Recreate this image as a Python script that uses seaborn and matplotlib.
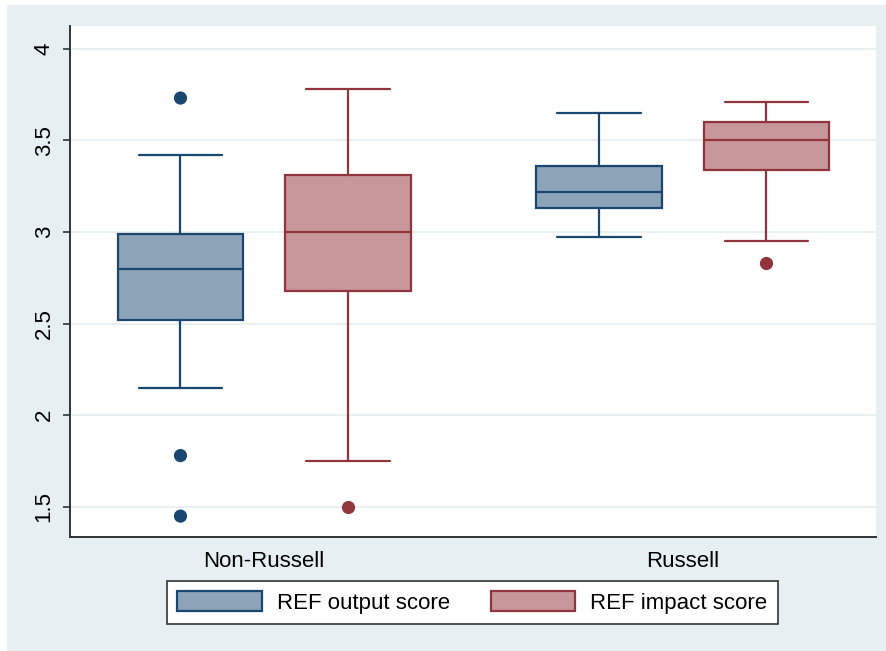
import matplotlib
matplotlib.use("Agg")
import matplotlib.pyplot as plt
from matplotlib.patches import Patch, Rectangle
import pandas as pd
import seaborn as sns

# Summary statistics per group and measure
groups = ["Non-Russell", "Russell"]
measures = ["REF output score", "REF impact score"]

whisker_low = {"REF output score": [2.15, 2.97], "REF impact score": [1.75, 2.95]}
q1 = {"REF output score": [2.52, 3.13], "REF impact score": [2.68, 3.34]}
median = {"REF output score": [2.80, 3.22], "REF impact score": [3.00, 3.50]}
q3 = {"REF output score": [2.99, 3.36], "REF impact score": [3.31, 3.60]}
whisker_high = {"REF output score": [3.42, 3.65], "REF impact score": [3.78, 3.71]}

# Outlying observations
outlier_group = ["Non-Russell", "Non-Russell", "Non-Russell", "Non-Russell", "Russell"]
outlier_measure = ["REF output score", "REF output score", "REF output score",
                   "REF impact score", "REF impact score"]
outlier_value = [3.73, 1.78, 1.45, 1.50, 2.83]

y_ticks = [1.5, 2, 2.5, 3, 3.5, 4]
y_tick_labels = ["1.5", "2", "2.5", "3", "3.5", "4"]

edge_colors = {"REF output score": "#1A476F", "REF impact score": "#90353B"}
fill_colors = {"REF output score": "#8DA3B8", "REF impact score": "#C7979B"}
bg_color = "#E6F0F2"

sns.set_style("white")
plt.rcParams["font.family"] = ["Liberation Sans", "DejaVu Sans"]
plt.rcParams["text.color"] = "black"

fig = plt.figure(figsize=(8.86, 6.51), dpi=100, facecolor="white")
fig.patches.append(Rectangle((7 / 886, 0), 1, (651 - 5) / 651, transform=fig.transFigure,
                             facecolor=bg_color, edgecolor="none", zorder=-10))
ax = fig.add_axes([70 / 886, (651 - 537) / 651, (876 - 70) / 886, (537 - 26) / 651])
ax.set_facecolor("white")

offsets = {"REF output score": -0.2, "REF impact score": 0.2}
for m in measures:
    stats = []
    positions = []
    for i, g in enumerate(groups):
        stats.append(dict(whislo=whisker_low[m][i], q1=q1[m][i], med=median[m][i],
                          q3=q3[m][i], whishi=whisker_high[m][i], fliers=[], label=g))
        positions.append(i + offsets[m])
    ec = edge_colors[m]
    ax.bxp(stats, positions=positions, widths=0.3, capwidths=0.2, patch_artist=True,
           showfliers=False, manage_ticks=False,
           boxprops=dict(facecolor=fill_colors[m], edgecolor=ec, linewidth=1.6),
           medianprops=dict(color=ec, linewidth=1.6),
           whiskerprops=dict(color=ec, linewidth=1.6),
           capprops=dict(color=ec, linewidth=1.6), zorder=3)

outliers = pd.DataFrame({"group": outlier_group, "measure": outlier_measure,
                         "value": outlier_value})
sns.stripplot(data=outliers, x="group", y="value", hue="measure", order=groups,
              hue_order=measures, dodge=True, jitter=False, size=9.5,
              palette=edge_colors, linewidth=0, legend=False, ax=ax, zorder=4)

ax.set_xlim(-0.464, 1.462)
ax.set_ylim(1.336, 4.123)
ax.set_yticks(y_ticks)
ax.set_yticklabels(y_tick_labels, rotation=90, va="center")
ax.set_xticks([0, 1])
ax.set_xticklabels(groups)
ax.set_xlabel("")
ax.set_ylabel("")
ax.yaxis.grid(True, color="#E8F0F2", linewidth=1.5, zorder=0)
ax.set_axisbelow(True)
ax.tick_params(axis="y", length=5, width=1.2, color="#333333", pad=6, labelsize=16,
               labelcolor="black", left=True)
ax.tick_params(axis="x", length=0, pad=10, labelsize=16, labelcolor="black")
for side in ["top", "right"]:
    ax.spines[side].set_visible(False)
for side in ["left", "bottom"]:
    ax.spines[side].set_color("#333333")
    ax.spines[side].set_linewidth(1.4)

handles = [Patch(facecolor=fill_colors[m], edgecolor=edge_colors[m], linewidth=1.6, label=m)
           for m in measures]
leg = fig.legend(handles=handles, loc="center", bbox_to_anchor=(472.5 / 886, (651 - 602.5) / 651),
                 ncol=2, fontsize=16, frameon=True, fancybox=False, framealpha=1,
                 handlelength=3.8, handleheight=1.0, handletextpad=0.7, columnspacing=1.8,
                 borderpad=0.45, borderaxespad=0, labelcolor="black")
leg.get_frame().set_edgecolor("#333333")
leg.get_frame().set_linewidth(1.2)
leg.get_frame().set_facecolor("white")

fig.savefig("out.png", dpi=100, facecolor=fig.get_facecolor())
